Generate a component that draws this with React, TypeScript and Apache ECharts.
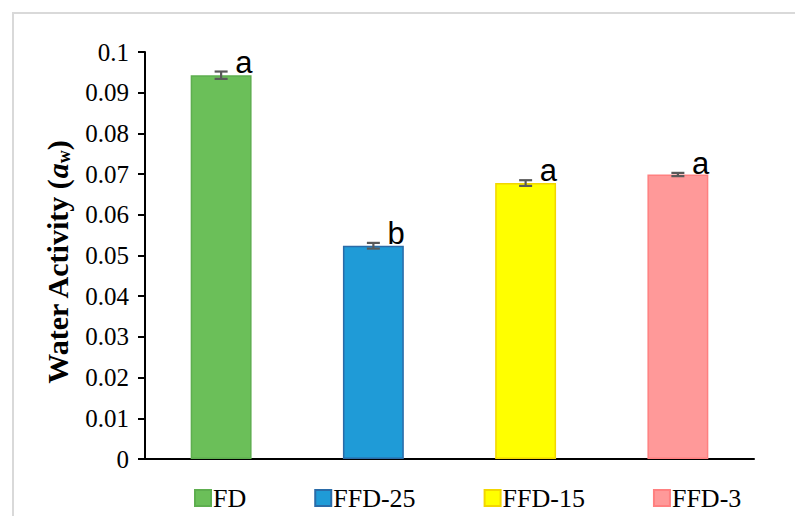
import React, { useEffect, useRef } from "react";
import * as echarts from "echarts";

const categories = ["FD", "FFD-25", "FFD-15", "FFD-3"];
const values = [0.0943, 0.0524, 0.0678, 0.0699];
const errors = [0.0009, 0.0007, 0.0007, 0.0004];
const letters = ["a", "b", "a", "a"];
const yTicks = [0, 0.01, 0.02, 0.03, 0.04, 0.05, 0.06, 0.07, 0.08, 0.09, 0.1];

const fills = ["#6BBF59", "#1F9BD7", "#FFFF00", "#FF9999"];
const borders = ["#5EAE4F", "#2A6BA8", "#F2D600", "#FF8080"];

export default function App() {
  const ref = useRef<HTMLDivElement>(null);
  useEffect(() => {
    if (!ref.current) return;
    const chart = echarts.init(ref.current, undefined, { renderer: "svg" });
    const serif = "'Liberation Serif', 'Times New Roman', serif";
    const barSeries = categories.map((name, i) => ({
      name,
      type: "bar",
      stack: "all",
      barWidth: "40%",
      data: categories.map((_, j) => (j === i ? values[j] : "-")),
      itemStyle: { color: fills[i], borderColor: borders[i], borderWidth: 1.5 },
    }));
    const errData = categories.map((_, i) => [i, values[i], errors[i], letters[i]]);
    chart.setOption({
      animation: false,
      color: fills,
      graphic: [
        {
          type: "rect",
          shape: { x: 13, y: 13, width: 800, height: 520 },
          style: { fill: "none", stroke: "#D9D9D9", lineWidth: 2 },
          silent: true,
        },
      ],
      grid: { left: 145, right: 41, top: 52, bottom: 57 },
      legend: {
        data: categories,
        left: 189,
        top: 480,
        itemWidth: 16,
        itemHeight: 16,
        itemGap: 68,
        icon: "rect",
        textStyle: { fontFamily: serif, fontSize: 26, color: "#000", padding: [0, 0, 0, -3] },
      },
      xAxis: {
        type: "category",
        data: categories,
        axisLine: { show: true, lineStyle: { color: "#000", width: 2 } },
        axisTick: { show: false },
        axisLabel: { show: false },
      },
      yAxis: {
        type: "value",
        min: 0,
        max: 0.1,
        interval: 0.01,
        splitLine: { show: false },
        axisLine: { show: true, lineStyle: { color: "#000", width: 2 } },
        axisTick: { show: true, inside: false, length: 7, lineStyle: { color: "#000", width: 2 } },
        axisLabel: {
          fontFamily: serif,
          fontSize: 25,
          color: "#000",
          margin: 16,
          formatter: (v: number) => String(parseFloat(v.toFixed(2))),
        },
        name: "{b|Water Activity (}{i|a}{s|w}{b|)}",
        nameLocation: "middle",
        nameGap: 72,
        nameTextStyle: {
          padding: [0, 14, 0, 0],
          rich: {
            b: { fontFamily: serif, fontWeight: "bold", fontSize: 30, color: "#000" },
            i: { fontFamily: serif, fontWeight: "bold", fontStyle: "italic", fontSize: 30, color: "#000" },
            s: {
              fontFamily: serif,
              fontWeight: "bold",
              fontSize: 18,
              color: "#000",
              padding: [14, 0, 0, 0],
            },
          },
        },
      },
      series: [
        ...barSeries,
        {
          type: "custom",
          name: "err",
          data: errData,
          z: 10,
          renderItem: (params: any, api: any) => {
            const idx = api.value(0);
            const v = api.value(1);
            const e = api.value(2);
            const letter = letters[params.dataIndex];
            const top = api.coord([idx, v + e]);
            const bot = api.coord([idx, v - e]);
            const hw = 6.5;
            const ls = { stroke: "#595959", lineWidth: 2.2 };
            return {
              type: "group",
              children: [
                { type: "line", shape: { x1: top[0], y1: top[1], x2: bot[0], y2: bot[1] }, style: ls },
                { type: "line", shape: { x1: top[0] - hw, y1: top[1], x2: top[0] + hw, y2: top[1] }, style: ls },
                { type: "line", shape: { x1: bot[0] - hw, y1: bot[1], x2: bot[0] + hw, y2: bot[1] }, style: ls },
                {
                  type: "text",
                  style: {
                    text: letter,
                    x: top[0] + 14,
                    y: top[1] + 6,
                    align: "left",
                    verticalAlign: "bottom",
                    fontFamily: "'Liberation Sans', Arial, sans-serif",
                    fontSize: 31,
                    fill: "#000",
                  },
                },
              ],
            };
          },
        },
      ],
    });
    return () => chart.dispose();
  }, []);
  return (
    <div style={{ position: "fixed", left: 0, top: 0, width: 795, height: 516, background: "#fff" }}>
      <div ref={ref} style={{ width: 795, height: 516 }} />
    </div>
  );
}
